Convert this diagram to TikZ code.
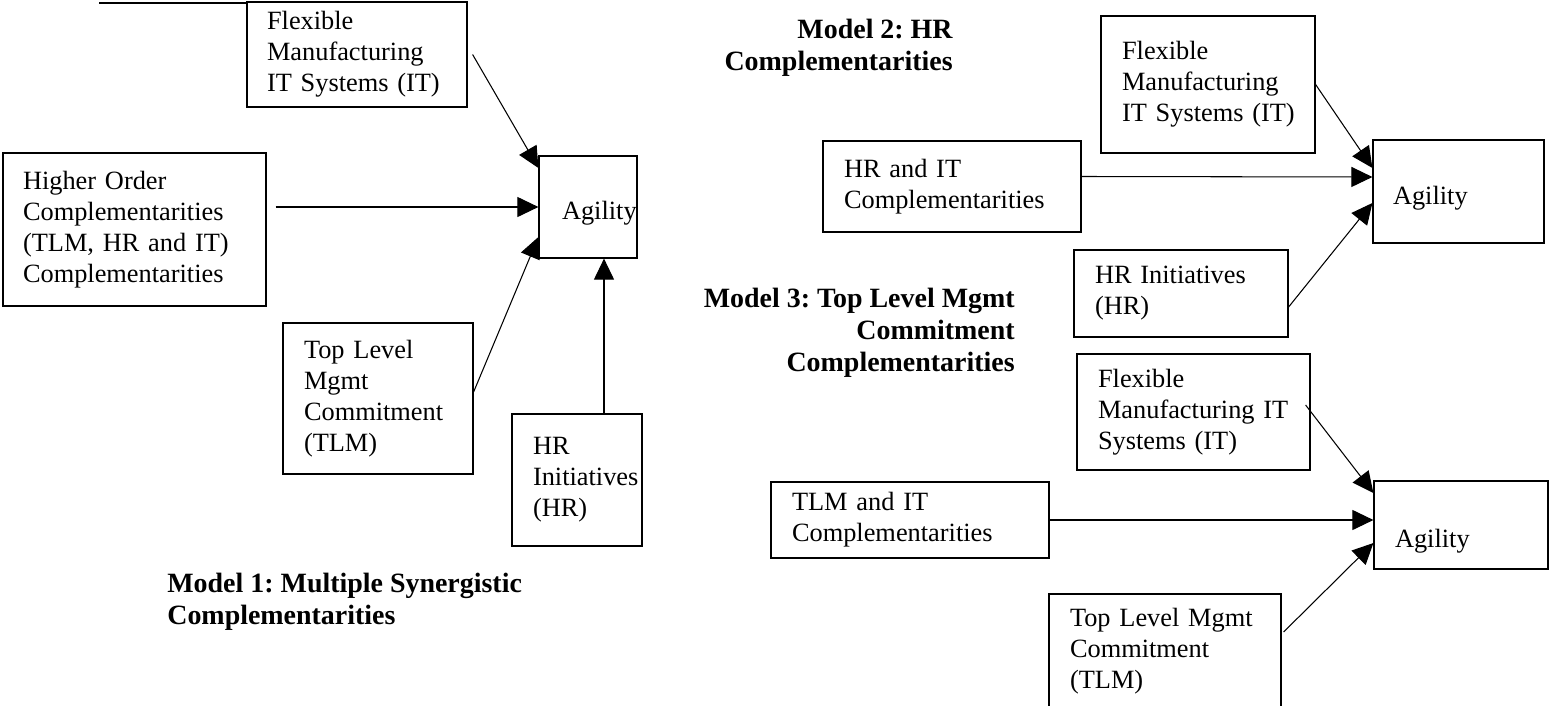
\documentclass[tikz,border=0pt]{standalone}
\usepackage{fontspec}
\setmainfont{Liberation Serif}
\usepackage{tikz}
\usetikzlibrary{arrows.meta, positioning, calc}
\frenchspacing

\newcommand\boxfont{\fontsize{15}{17.6}\selectfont}
\newcommand\modelfont{\fontsize{15.9}{18.1}\selectfont\bfseries}

\begin{document}
\begin{tikzpicture}[
  x=0.02cm, y=-0.02cm,
  box/.style={rectangle, draw, line width=0.7pt, align=left, inner ysep=0pt, inner xsep=0.42cm, font=\boxfont,
    execute at begin node={\hyphenpenalty=10000\relax}},
  agility/.style={box, text depth=0.12cm},
  model/.style={inner sep=0pt, font=\modelfont},
  link/.style={-{Triangle[length=0.42cm, width=0.4cm]}, line width=0.6pt}
]
  \useasboundingbox (0,0) rectangle (1551,706);
  \draw[line width=1.2pt] (99,3) -- (247,3);

  % Model 1
  \node[box, minimum width=4.40cm, minimum height=2.10cm, inner xsep=0.40cm, text width=3.60cm] (itA) at (357,54.5) {Flexible\\Manufacturing\\\mbox{IT Systems (IT)}};
  \node[box, minimum width=5.26cm, minimum height=3.06cm, inner xsep=0.40cm, text width=4.46cm] (hoc) at (134.5,229.5) {Higher Order\\Complementarities\\(TLM, HR and IT)\\Complementarities};
  \node[agility, minimum width=1.96cm, minimum height=2.04cm, inner xsep=0.46cm, text width=1.04cm, text height=0.64cm] (agA) at (588,207) {Agility};
  \node[box, minimum width=3.80cm, minimum height=3.02cm, text width=2.96cm] (tlmA) at (378,398.5) {Top Level\\Mgmt\\Commitment\\(TLM)};
  \node[box, minimum width=2.60cm, minimum height=2.64cm, text width=1.76cm] (hrA) at (577,480) {HR\\Initiatives\\(HR)};
  \node[model, anchor=north west, align=left] (titleA) at (167,573) {Model 1: Multiple Synergistic\\Complementarities};

  \coordinate (hrAin) at ($(agA.south)+(16,0)$);
  \draw[link] ([xshift=0.1cm]itA.east) -- ($(agA.west)+(0,-39)$);
  \draw[link] ($(hoc.east |- agA.west)+(9,0)$) -- (agA.west);
  \draw[link] ($(tlmA.east)+(0,-6.5)$) -- ($(agA.west)+(0,30)$);
  \draw[link] (hrAin |- hrA.north) -- (hrAin);

  % Model 2
  \node[model, anchor=north east, align=right] (titleB) at (953,19) {Model 2: HR\\Complementarities};
  \node[box, minimum width=4.28cm, minimum height=2.74cm, text width=3.44cm] (itB) at (1208,84.5) {Flexible\\Manufacturing\\\mbox{IT Systems (IT)}};
  \node[box, minimum width=5.16cm, minimum height=1.82cm, text width=4.32cm] (hrit) at (952,186.5) {HR and IT\\Complementarities};
  \node[agility, minimum width=3.42cm, minimum height=2.06cm, inner xsep=0.40cm, text width=2.62cm, text height=0.66cm] (agB) at (1458.5,191.5) {Agility};
  \node[box, minimum width=4.28cm, minimum height=1.74cm, text width=3.44cm] (hrB) at (1181,293.5) {\mbox{HR Initiatives}\\(HR)};

  \draw[link] (itB.east) -- ($(agB.west)+(0,-23.5)$);
  \draw[link] ($(hrit.east)+(0,-10)$) -- ($(agB.west)+(0,-14.5)$);
  \draw[link] ($(hrB.east)+(0,13.5)$) -- ($(agB.west)+(0,11.5)$);

  % Model 3
  \node[model, anchor=north east, align=right] (titleC) at (1015,288) {Model 3: Top Level Mgmt\\Commitment\\Complementarities};
  \node[box, minimum width=4.66cm, minimum height=2.32cm, text width=3.82cm] (itC) at (1193.5,412) {Flexible\\\mbox{Manufacturing IT}\\Systems (IT)};
  \node[box, minimum width=5.56cm, minimum height=1.52cm, text width=4.72cm] (tlmit) at (910,520) {TLM and IT\\Complementarities};
  \node[agility, minimum width=3.48cm, minimum height=1.76cm, text width=2.64cm, text height=1.0cm] (agC) at (1461,525) {Agility};
  \node[box, minimum width=4.64cm, minimum height=2.28cm, text width=3.80cm] (tlmC) at (1165,651) {\mbox{Top Level Mgmt}\\Commitment\\(TLM)};

  \draw[link] ($(itC.east)+(-5,-7)$) -- ($(agC.west)+(0,-32)$);
  \draw[link] (tlmit.east) -- ($(agC.west)+(0,-5)$);
  \draw[link] ($(tlmC.east)+(2,-19)$) -- ($(agC.west)+(0,18)$);
\end{tikzpicture}
\end{document}
